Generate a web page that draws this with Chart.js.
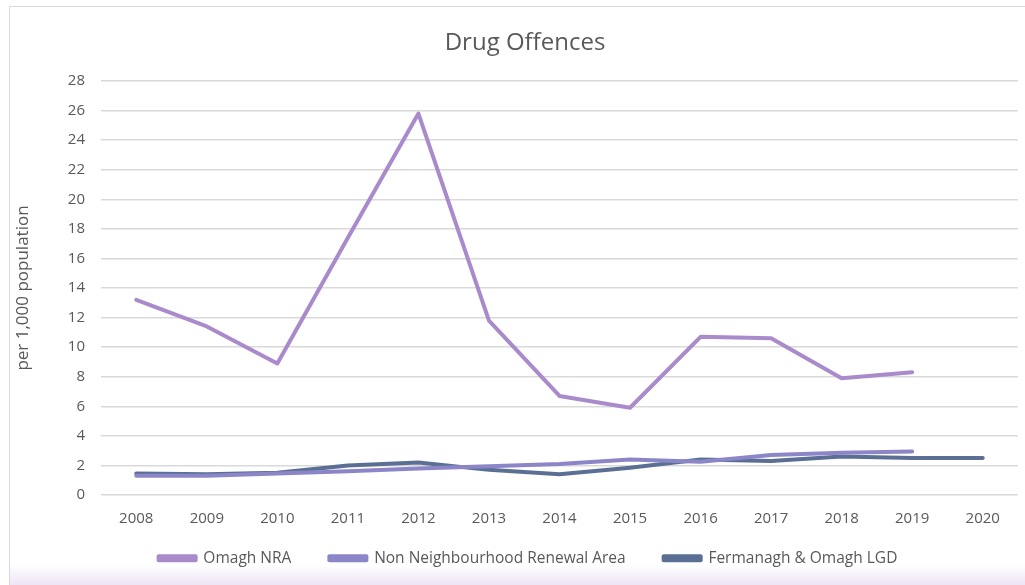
<!DOCTYPE html>
<html>
<head>
<meta charset="utf-8">
<script src="https://cdn.jsdelivr.net/npm/chart.js@4.4.0/dist/chart.umd.min.js"></script>
<style>
  html, body { margin: 0; padding: 0; background: #fff; }
  #wrap {
    position: absolute; left: 9px; top: 6px; width: 1016px; height: 579px;
    border-left: 1px solid #d9d9d9; border-top: 1px solid #d9d9d9;
    background: linear-gradient(to bottom, #fff 0, #fff 558px, #ede3f5 579px);
  }
</style>
</head>
<body>
<div id="wrap"><canvas id="myChart" width="1016" height="579"></canvas></div>
<script>
const years = ['2008','2009','2010','2011','2012','2013','2014','2015','2016','2017','2018','2019','2020'];
const omaghNRA = [13.2, 11.4, 8.9, 17.4, 25.8, 11.8, 6.7, 5.9, 10.7, 10.6, 7.9, 8.3, null];
const nonNRA = [1.3, 1.3, 1.45, 1.6, 1.8, 1.95, 2.1, 2.4, 2.25, 2.7, 2.85, 2.95, null];
const fermOmaghLGD = [1.45, 1.4, 1.5, 2.0, 2.2, 1.7, 1.4, 1.85, 2.4, 2.3, 2.6, 2.5, 2.5];

const fontFamily = "'Open Sans', sans-serif";
const grey = '#595959';

// legend sits closer to the axis labels, and title/legend are centred a bit right
const nudgeBlocks = {
    id: 'nudgeBlocks',
    afterLayout: function(chart) {
        chart.legend.top -= 15.5;
        chart.legend.bottom -= 15.5;
        chart.legend.left += 14;
        chart.legend.right += 14;
        chart.titleBlock.left += 11;
        chart.titleBlock.right += 11;
    }
};

const ctx = document.getElementById('myChart').getContext('2d');
const myChart = new Chart(ctx, {
    type: 'line',
    data: {
        labels: years,
        datasets: [
            { label: 'Omagh NRA', data: omaghNRA, borderColor: '#a98bcb', backgroundColor: '#a98bcb' },
            { label: 'Non Neighbourhood Renewal Area', data: nonNRA, borderColor: '#8c86c9', backgroundColor: '#8c86c9' },
            { label: 'Fermanagh & Omagh LGD', data: fermOmaghLGD, borderColor: '#5b6f95', backgroundColor: '#5b6f95' }
        ]
    },
    plugins: [nudgeBlocks],
    options: {
        responsive: false,
        animation: false,
        elements: {
            line: { borderWidth: 4, tension: 0, borderCapStyle: 'round', borderJoinStyle: 'round' },
            point: { radius: 0, hoverRadius: 0 }
        },
        layout: { padding: { left: 0, right: 8, top: 0, bottom: 0 } },
        plugins: {
            title: {
                display: true, text: 'Drug Offences', color: grey,
                font: { family: fontFamily, size: 24, weight: 'normal' },
                padding: { top: 21.4, bottom: 23.8 }
            },
            legend: {
                position: 'bottom',
                maxHeight: 58,
                labels: {
                    color: grey, font: { family: fontFamily, size: 15.5 },
                    boxWidth: 37, boxHeight: 4, padding: 38
                }
            },
            tooltip: { enabled: false }
        },
        scales: {
            x: {
                offset: true,
                grid: { display: false, drawTicks: false },
                border: { display: false },
                ticks: { color: grey, font: { family: fontFamily, size: 15 }, padding: 15, maxRotation: 0, autoSkip: false },
                afterFit: function(scale) { scale.height = 33; }
            },
            y: {
                min: 0, max: 28,
                grid: { color: '#d9d9d9', lineWidth: 1.5, drawTicks: false },
                border: { display: false },
                ticks: { stepSize: 2, color: grey, font: { family: fontFamily, size: 15 }, padding: 16 },
                title: {
                    display: true, text: 'per 1,000 population', color: grey,
                    font: { family: fontFamily, size: 17 }, padding: { top: 3, bottom: 0 }
                },
                afterFit: function(scale) { scale.width = 91; }
            }
        }
    }
});
</script>
</body>
</html>
